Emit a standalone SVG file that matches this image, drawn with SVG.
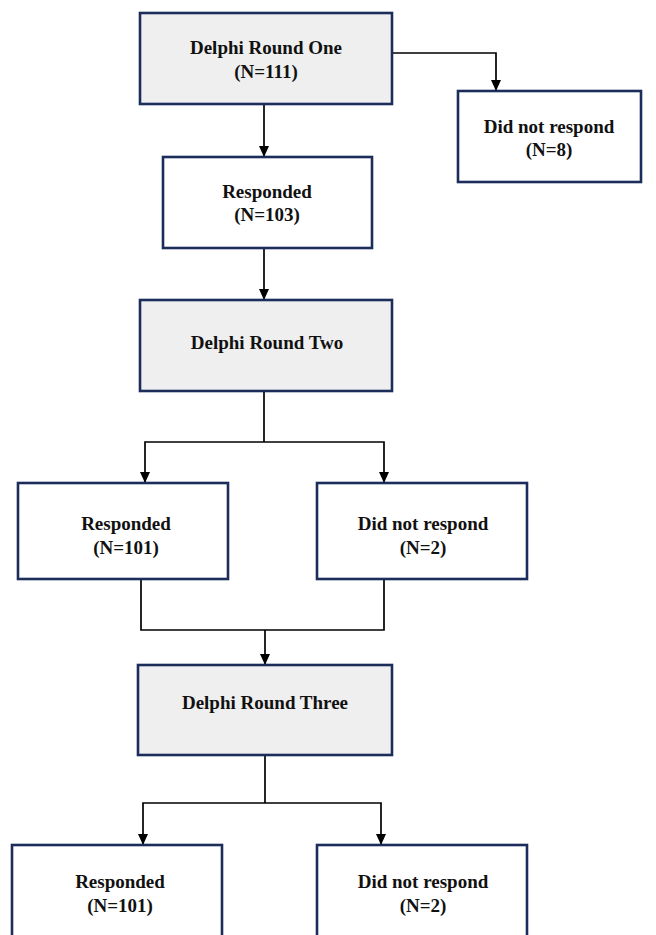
<svg xmlns="http://www.w3.org/2000/svg" width="656" height="935" viewBox="0 0 656 935">
<defs>
<marker id="ah" markerWidth="11" markerHeight="11" refX="10" refY="5.5" orient="auto" markerUnits="userSpaceOnUse">
<path d="M0,0.5 L11,5.5 L0,10.5 Z" fill="#000"/>
</marker>
</defs>
<style>
.box{stroke:#1c2d5c;stroke-width:2.6;}
.grey{fill:#efefef;}
.white{fill:#ffffff;}
.t{font-family:"Liberation Serif","Times New Roman",serif;font-weight:bold;font-size:19px;fill:#111;text-anchor:middle;}
.c{fill:none;stroke:#000;stroke-width:1.7;}
.a{marker-end:url(#ah);}
</style>
<rect width="656" height="935" fill="#fff"/>
<g id="connectors">
<path class="c a" d="M264,104 V156"/>
<path class="c a" d="M392,53 H496 V90"/>
<path class="c a" d="M264,248 V299"/>
<path class="c" d="M264,391 V442"/>
<path class="c a" d="M264,442 H145 V482"/>
<path class="c a" d="M264,442 H384 V482"/>
<path class="c" d="M141,579 V630 H384 V579"/>
<path class="c a" d="M265,630 V664"/>
<path class="c" d="M265,755 V803"/>
<path class="c a" d="M265,803 H143 V844"/>
<path class="c a" d="M265,803 H381 V844"/>
</g>
<g id="n1">
<rect class="box grey" x="140" y="13" width="252" height="91"/>
<text class="t" x="266" y="54">Delphi Round One</text>
<text class="t" x="266" y="78">(N=111)</text>
</g>
<g id="n2">
<rect class="box white" x="458" y="91" width="183" height="91"/>
<text class="t" x="549" y="133">Did not respond</text>
<text class="t" x="549" y="156">(N=8)</text>
</g>
<g id="n3">
<rect class="box white" x="163" y="157" width="209" height="91"/>
<text class="t" x="267" y="198">Responded</text>
<text class="t" x="267" y="221">(N=103)</text>
</g>
<g id="n4">
<rect class="box grey" x="140" y="300" width="252" height="91"/>
<text class="t" x="267" y="349">Delphi Round Two</text>
</g>
<g id="n5">
<rect class="box white" x="18" y="483" width="210" height="96"/>
<text class="t" x="126" y="530">Responded</text>
<text class="t" x="126" y="554">(N=101)</text>
</g>
<g id="n6">
<rect class="box white" x="317" y="483" width="210" height="96"/>
<text class="t" x="423" y="530">Did not respond</text>
<text class="t" x="423" y="554">(N=2)</text>
</g>
<g id="n7">
<rect class="box grey" x="138" y="665" width="254" height="90"/>
<text class="t" x="265" y="709">Delphi Round Three</text>
</g>
<g id="n8">
<rect class="box white" x="12" y="845" width="210" height="100"/>
<text class="t" x="120" y="888">Responded</text>
<text class="t" x="120" y="912">(N=101)</text>
</g>
<g id="n9">
<rect class="box white" x="317" y="845" width="210" height="100"/>
<text class="t" x="423" y="888">Did not respond</text>
<text class="t" x="423" y="912">(N=2)</text>
</g>
</svg>
